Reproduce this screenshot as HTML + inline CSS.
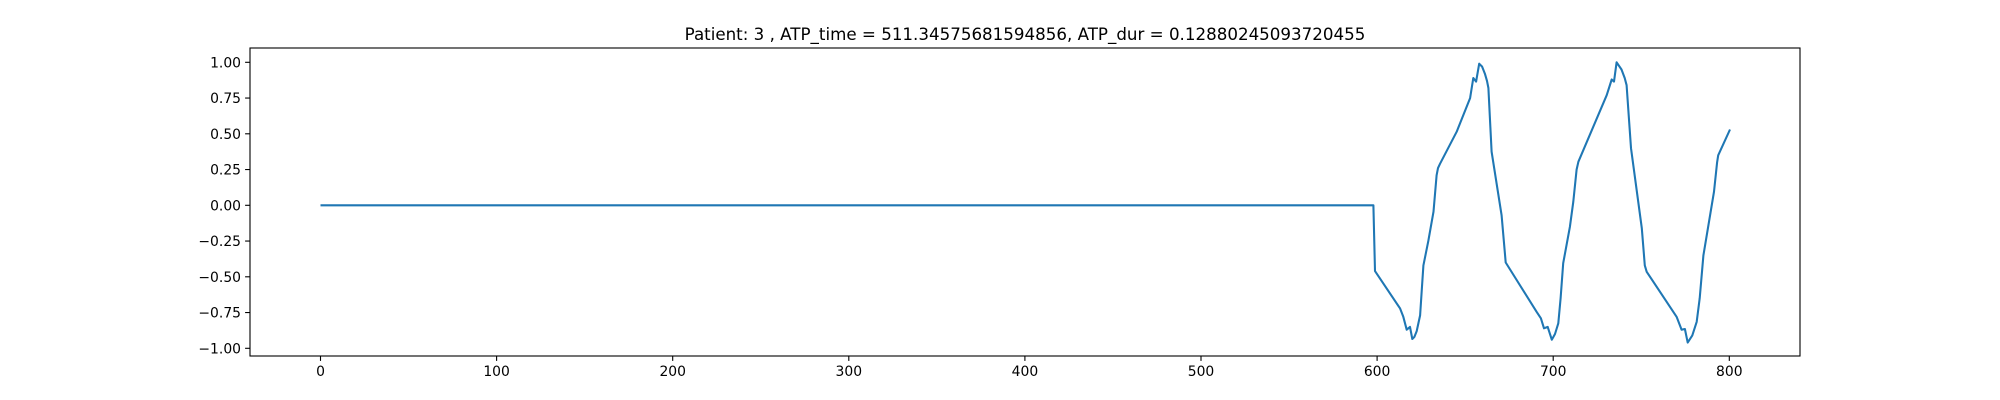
<!DOCTYPE html>
<html><head><meta charset="utf-8"><style>body{margin:0;background:#fff}svg{display:block}text{font-family:"DejaVu Sans","Liberation Sans",sans-serif;fill:#000}</style></head>
<body>
<svg id="chart" width="2000" height="400" xmlns="http://www.w3.org/2000/svg">
<rect width="2000" height="400" fill="#fff"/>
<text x="1025" y="40" font-size="16.7" text-anchor="middle">Patient: 3 , ATP_time = 511.34575681594856, ATP_dur = 0.12880245093720455</text>
<g id="ticks"></g>
<path id="series" fill="none" stroke="#1f77b4" stroke-width="2.08" stroke-linejoin="round"/>
<rect x="250" y="48" width="1550" height="308" fill="none" stroke="#000" stroke-width="1.1"/>
</svg>
<script>
const xTicks=[0,100,200,300,400,500,600,700,800];
const yTicks=[-1,-0.75,-0.5,-0.25,0,0.25,0.5,0.75,1];
const yTickLabels=["\u22121.00","\u22120.75","\u22120.50","\u22120.25","0.00","0.25","0.50","0.75","1.00"];
const sampleX=[0,597.9,598.8,613,614.9,616.8,618.7,620,621.2,622.5,624.4,625.3,626.3,629.1,632,633.8,634.6,635.7,645.2,652.8,654.6,656.2,658,659.6,661.2,662.4,663.2,665,670.7,673,690.6,693,694.8,696.9,699.2,701,702.9,704.2,705.7,709.5,711.4,713.3,714.3,730.4,733.2,734.5,736,738.8,740.6,741.7,744.2,750.3,752,753.1,770.1,772.9,774.8,776.4,779,781.5,783.2,785.3,791.3,793.1,793.7,800.4];
const sampleY=[0,0,-0.46,-0.72,-0.78,-0.87,-0.85,-0.935,-0.92,-0.88,-0.77,-0.6,-0.42,-0.25,-0.045,0.21,0.26,0.29,0.515,0.75,0.89,0.865,0.99,0.97,0.92,0.87,0.82,0.375,-0.07,-0.40,-0.745,-0.79,-0.86,-0.85,-0.94,-0.9,-0.825,-0.65,-0.405,-0.15,0.025,0.25,0.305,0.77,0.88,0.865,1.0,0.95,0.89,0.84,0.40,-0.16,-0.42,-0.465,-0.78,-0.87,-0.865,-0.96,-0.91,-0.815,-0.65,-0.35,0.095,0.3,0.35,0.53];
const X=v=>320.5+v*1.761;
const Y=v=>205.3-v*143;
const NS="http://www.w3.org/2000/svg";
const g=document.getElementById('ticks');
function mk(tag,attrs){const e=document.createElementNS(NS,tag);for(const k in attrs)e.setAttribute(k,attrs[k]);g.appendChild(e);return e;}
xTicks.forEach(t=>{
  const l=mk('line',{x1:X(t),x2:X(t),y1:356,y2:360.9,stroke:'#000','stroke-width':1.1});
  
  
  const tx=mk('text',{x:X(t),y:376,'font-size':13.9,'text-anchor':'middle'});
  tx.textContent=String(t);
  
  
});
yTicks.forEach((t,i)=>{
  const l=mk('line',{x1:245.1,x2:250,y1:Y(t),y2:Y(t),stroke:'#000','stroke-width':1.1});
  
  
  const tx=mk('text',{x:241,y:Y(t)+5,'font-size':13.9,'text-anchor':'end'});
  tx.textContent=yTickLabels[i];
  
  
});
document.getElementById('series').setAttribute('d',sampleX.map((x,i)=>(i?'L':'M')+X(x).toFixed(1)+' '+Y(sampleY[i]).toFixed(1)).join(' '));
</script>
</body></html>
